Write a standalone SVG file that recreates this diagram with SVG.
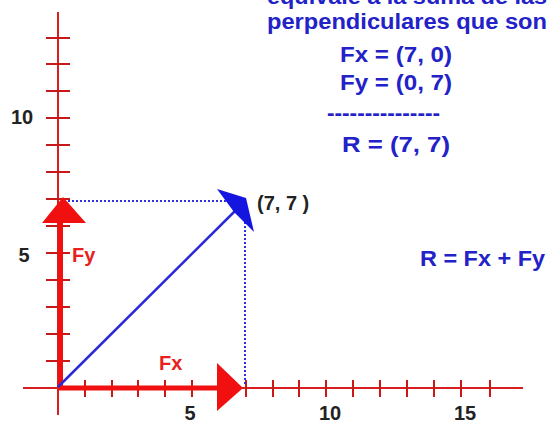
<svg xmlns="http://www.w3.org/2000/svg" width="550" height="430" viewBox="0 0 550 430">
<style>
.ax{stroke:#d81e1e;stroke-width:2;fill:none}
.tk{stroke:#c81818;stroke-width:2}
.num{font-family:"Liberation Sans",Arial,sans-serif;font-weight:bold;fill:#222;font-size:20px}
.blu{font-family:"Liberation Sans",Arial,sans-serif;font-weight:bold;fill:#2222c8;font-size:22px}
.red{font-family:"Liberation Sans",Arial,sans-serif;font-weight:bold;fill:#e82020;font-size:20px}
.dot{stroke:#3030e0;stroke-width:2;stroke-dasharray:2 2;fill:none}
</style>
<rect width="550" height="430" fill="#fff"/>
<g id="axes">
<line class="ax" x1="58" y1="12" x2="58" y2="415"/>
<line class="ax" x1="23" y1="388" x2="523" y2="388"/>
<g class="tk">
<line x1="46" y1="361" x2="70" y2="361"/><line x1="46" y1="334" x2="70" y2="334"/><line x1="46" y1="307" x2="70" y2="307"/><line x1="46" y1="280" x2="70" y2="280"/><line x1="46" y1="253" x2="70" y2="253"/><line x1="46" y1="226" x2="70" y2="226"/><line x1="46" y1="199" x2="70" y2="199"/><line x1="46" y1="172" x2="70" y2="172"/><line x1="46" y1="145" x2="70" y2="145"/><line x1="46" y1="118" x2="70" y2="118"/><line x1="46" y1="91" x2="70" y2="91"/><line x1="46" y1="64" x2="70" y2="64"/><line x1="46" y1="38" x2="70" y2="38"/>
<line x1="85" y1="380" x2="85" y2="397"/><line x1="112" y1="380" x2="112" y2="397"/><line x1="138" y1="380" x2="138" y2="397"/><line x1="165" y1="380" x2="165" y2="397"/><line x1="192" y1="380" x2="192" y2="397"/><line x1="246" y1="380" x2="246" y2="397"/><line x1="273" y1="380" x2="273" y2="397"/><line x1="299" y1="380" x2="299" y2="397"/><line x1="326" y1="380" x2="326" y2="397"/><line x1="353" y1="380" x2="353" y2="397"/><line x1="380" y1="380" x2="380" y2="397"/><line x1="407" y1="380" x2="407" y2="397"/><line x1="434" y1="380" x2="434" y2="397"/><line x1="461" y1="380" x2="461" y2="397"/><line x1="490" y1="380" x2="490" y2="397"/>
</g>
<text class="num" x="22" y="124" text-anchor="middle">10</text>
<text class="num" x="24" y="262" text-anchor="middle">5</text>
<text class="num" x="190" y="420" text-anchor="middle">5</text>
<text class="num" x="330" y="420" text-anchor="middle">10</text>
<text class="num" x="465" y="420" text-anchor="middle">15</text>
</g>
<g id="connectors">
<line class="dot" x1="68" y1="201" x2="238" y2="201"/>
<line class="dot" x1="245" y1="214" x2="245" y2="386"/>
<g id="Fy">
<line x1="60.5" y1="388" x2="60.5" y2="220" stroke="#f01010" stroke-width="5"/>
<polygon points="42,223 86,223 63,197" fill="#f01010"/>
</g>
<g id="Fx">
<line x1="58" y1="388" x2="220" y2="388" stroke="#f01010" stroke-width="5"/>
<polygon points="217,363 217,411 243,388" fill="#f01010"/>
</g>
<g id="R">
<line x1="58" y1="387" x2="236" y2="210" stroke="#2a2ad8" stroke-width="2.5"/>
<polygon points="217,189 246,198 254,232 234,212" fill="#1515e0"/>
</g>
</g>
<g id="labels">
<text class="red" x="159" y="370">Fx</text>
<text class="red" x="72" y="262">Fy</text>
<text class="num" x="257" y="210" font-size="19">(7, 7 )</text>
<text class="blu" x="420" y="266" textLength="125" lengthAdjust="spacingAndGlyphs" font-size="21">R = Fx + Fy</text>
</g>
<g id="equations">
<text class="blu" x="267" y="4" textLength="280" lengthAdjust="spacingAndGlyphs">equivale a la suma de las</text>
<text class="blu" x="267" y="29" textLength="280" lengthAdjust="spacingAndGlyphs">perpendiculares que son</text>
<text class="blu" x="340" y="62" textLength="112" lengthAdjust="spacingAndGlyphs">Fx = (7, 0)</text>
<text class="blu" x="340" y="90" textLength="112" lengthAdjust="spacingAndGlyphs">Fy = (0, 7)</text>
<text class="blu" x="327" y="120" textLength="113" lengthAdjust="spacingAndGlyphs">---------------</text>
<text class="blu" x="342" y="152" textLength="108" lengthAdjust="spacingAndGlyphs">R  = (7, 7)</text>
</g>
</svg>
